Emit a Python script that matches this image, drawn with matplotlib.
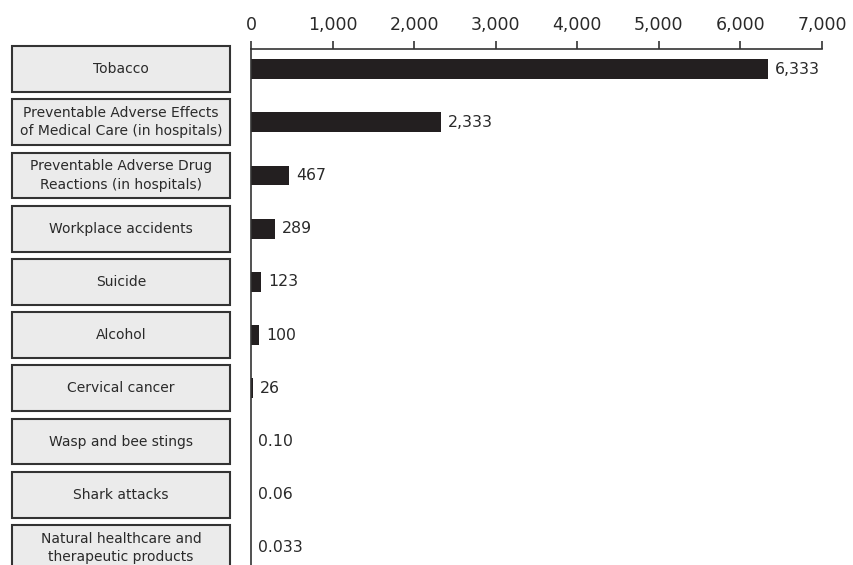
import matplotlib
matplotlib.use('Agg')
import matplotlib.pyplot as plt
from matplotlib.patches import Rectangle
from matplotlib.transforms import blended_transform_factory

causes = [
    'Tobacco',
    'Preventable Adverse Effects\nof Medical Care (in hospitals)',
    'Preventable Adverse Drug\nReactions (in hospitals)',
    'Workplace accidents',
    'Suicide',
    'Alcohol',
    'Cervical cancer',
    'Wasp and bee stings',
    'Shark attacks',
    'Natural healthcare and\ntherapeutic products',
]
deaths = [6333, 2333, 467, 289, 123, 100, 26, 0.10, 0.06, 0.033]
value_labels = ['6,333', '2,333', '467', '289', '123', '100', '26', '0.10', '0.06', '0.033']
ticks = [0, 1000, 2000, 3000, 4000, 5000, 6000, 7000]

plt.rcParams['font.family'] = 'DejaVu Sans'
ink = '#231f20'
edge = '#333333'

fig = plt.figure(figsize=(8.54, 5.65), dpi=100)
ax = fig.add_axes([251 / 854, 0, (822 - 251) / 854, 1 - 49 / 565])

pos = list(range(len(causes)))
ax.barh(pos, deaths, height=0.37, color=ink)

ax.set_xlim(0, 7000)
ax.set_ylim(9.32, -0.376)

ax.xaxis.tick_top()
ax.set_xticks(ticks)
ax.set_xticklabels([f'{t:,}' for t in ticks], fontsize=12.5, color='#2a2a2a')
ax.tick_params(axis='x', direction='out', length=6, width=1.2, color=edge, pad=4.5)
ax.set_yticks([])
for side in ['right', 'bottom']:
    ax.spines[side].set_visible(False)
for side in ['top', 'left']:
    ax.spines[side].set_color(edge)
    ax.spines[side].set_linewidth(1.2)

for y, v, s in zip(pos, deaths, value_labels):
    ax.annotate(s, (v, y), xytext=(5, 0), textcoords='offset points',
                va='center', ha='left', fontsize=11.3, color='#2a2a2a')

# category boxes to the left of the axis
trans = blended_transform_factory(fig.transFigure, ax.transData)
x0, x1 = 12 / 854, 230 / 854
for y, name in zip(pos, causes):
    box = Rectangle((x0, y - 0.43), x1 - x0, 0.86, transform=trans,
                    facecolor='#ebebeb', edgecolor=edge, linewidth=1.5, clip_on=False)
    fig.add_artist(box)
    fig.text((x0 + x1) / 2, y, name, transform=trans, ha='center', va='center',
             fontsize=10, color='#2a2a2a', linespacing=1.4)

fig.savefig('out.png', dpi=100)
